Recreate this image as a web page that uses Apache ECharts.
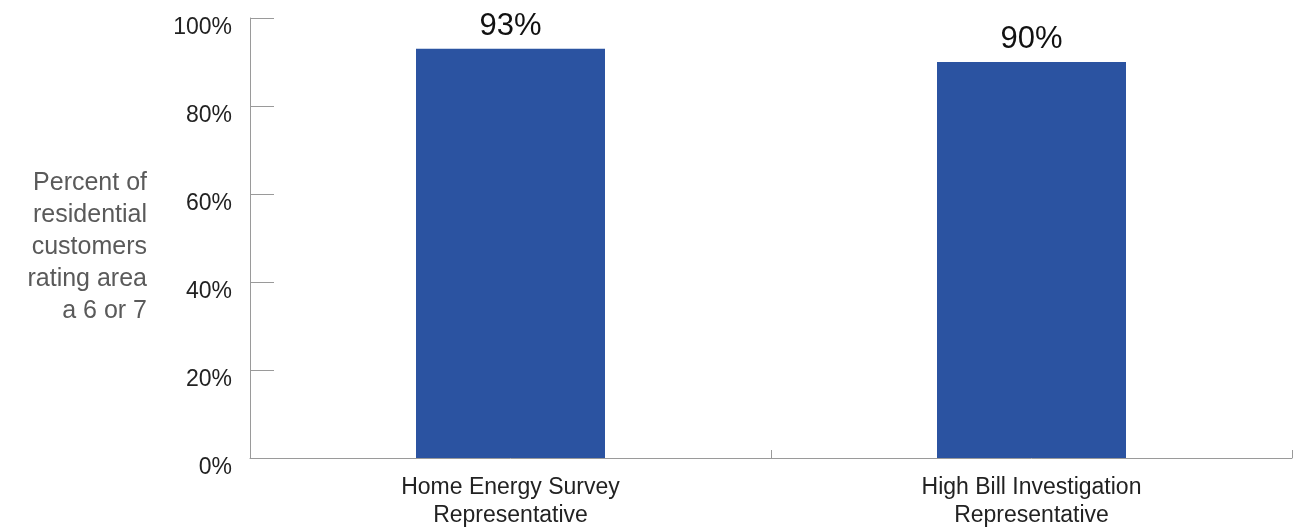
<!DOCTYPE html>
<html>
<head>
<meta charset="utf-8">
<script src="https://cdn.jsdelivr.net/npm/echarts@6/dist/echarts.min.js"></script>
<style>
  html, body { margin: 0; padding: 0; background: #ffffff; }
  #chart { width: 1298px; height: 529px; }
</style>
</head>
<body>
<div id="chart"></div>
<script>
// Satisfaction by service representative type
const categories = ['Home Energy Survey\nRepresentative', 'High Bill Investigation\nRepresentative'];
const ratings = [93, 90];
const yTicks = [0, 20, 40, 60, 80, 100];
const yTitle = 'Percent of\nresidential\ncustomers\nrating area\na 6 or 7';

const FONT = 'Liberation Sans, Arial, sans-serif';

const chart = echarts.init(document.getElementById('chart'));
chart.setOption({
  animation: false,
  // value-axis caption, right-aligned beside the tick labels
  title: {
    text: yTitle,
    left: 147,
    top: 167,
    textAlign: 'right',
    padding: 0,
    textStyle: {
      color: '#5a5a5a', fontFamily: FONT, fontSize: 25,
      fontWeight: 'normal', lineHeight: 32
    }
  },
  grid: { left: 250, right: 6, top: 18, bottom: 71, outerBoundsMode: 'none' },
  xAxis: {
    type: 'category',
    data: categories,
    axisLine: { lineStyle: { color: '#9a9a9a', width: 1 } },
    axisTick: { show: true, inside: true, length: 8, alignWithLabel: false, lineStyle: { color: '#9a9a9a' } },
    axisLabel: {
      color: '#222222', fontFamily: FONT, fontSize: 23,
      lineHeight: 28, margin: 16
    }
  },
  yAxis: {
    type: 'value',
    min: yTicks[0],
    max: yTicks[yTicks.length - 1],
    interval: 20,
    axisLine: { show: true, lineStyle: { color: '#9a9a9a', width: 1 } },
    axisTick: { show: true, inside: true, length: 24, lineStyle: { color: '#9a9a9a' } },
    splitLine: { show: false },
    axisLabel: {
      color: '#222222', fontFamily: FONT, fontSize: 23,
      margin: 18, verticalAlign: 'top', lineHeight: 19, formatter: '{value}%'
    }
  },
  series: [{
    type: 'bar',
    data: ratings,
    barWidth: 189,
    itemStyle: { color: '#2b53a1' },
    label: {
      show: true, position: 'top', distance: 7,
      formatter: '{c}%', color: '#111111',
      fontFamily: FONT, fontSize: 31
    }
  }]
});
</script>
</body>
</html>
